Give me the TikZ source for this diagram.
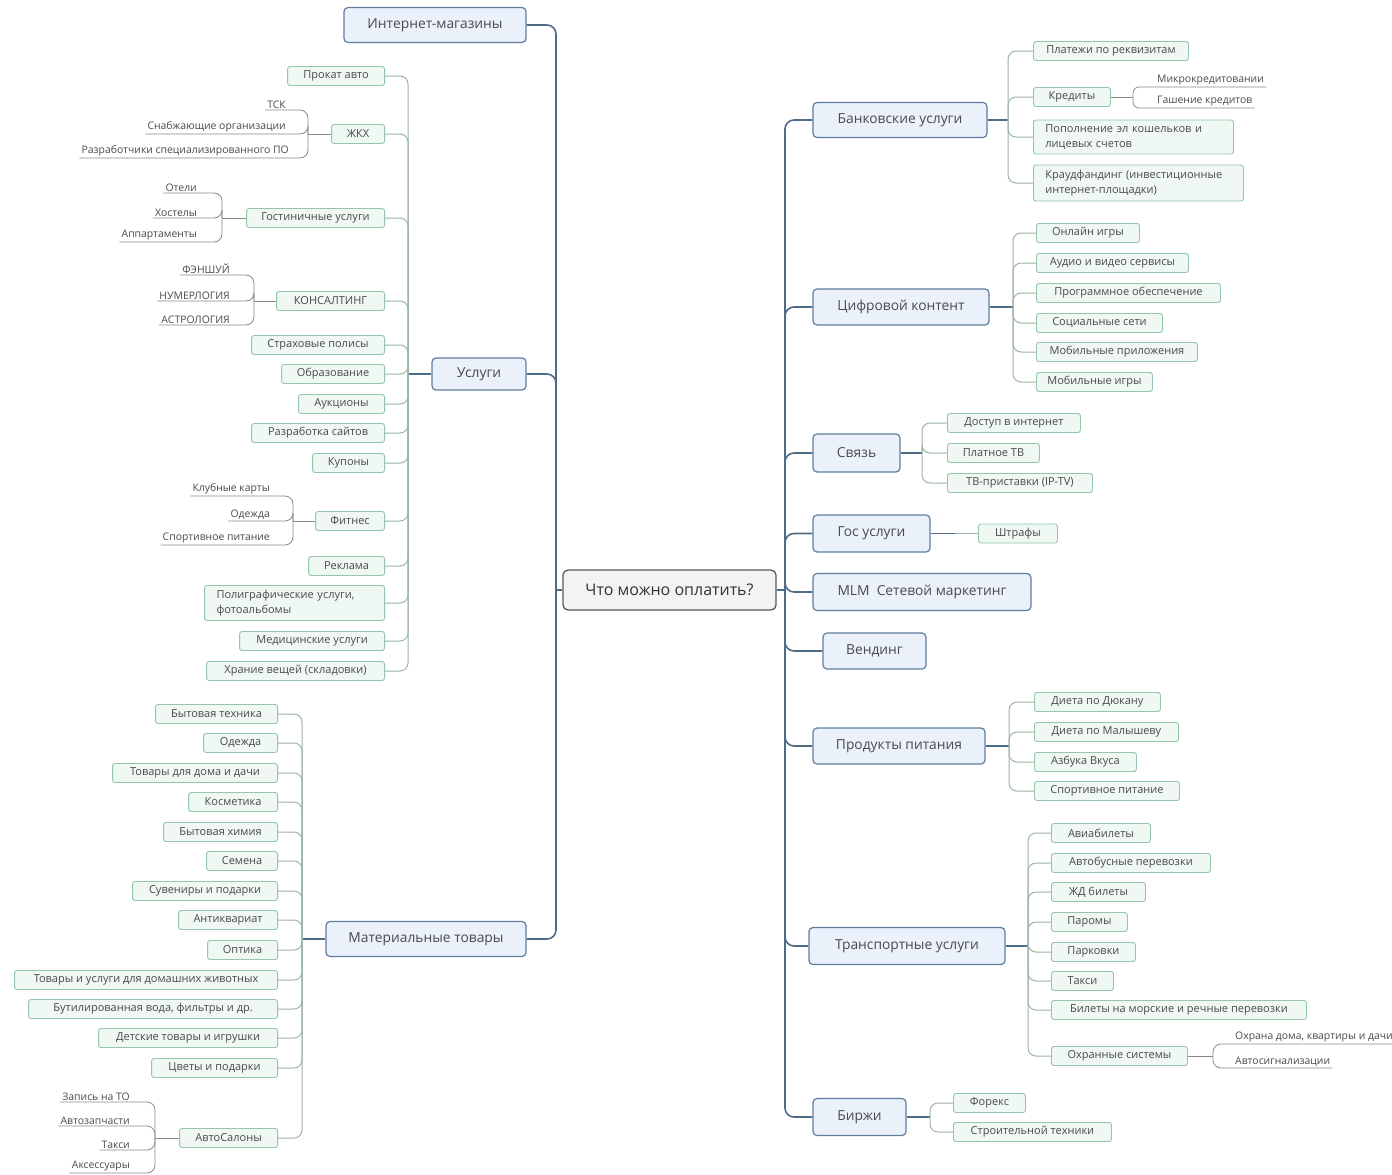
\documentclass[tikz,border=0pt]{standalone}
\usepackage{fontspec}
\setmainfont{Open Sans}
\definecolor{mainb}{HTML}{5F7E9E}
\definecolor{mainf}{HTML}{EAF1FA}
\definecolor{mainl}{HTML}{4E6B88}
\definecolor{subb}{HTML}{94C7A8}
\definecolor{subf}{HTML}{EFF8F2}
\definecolor{subl}{HTML}{9DB5A6}
\definecolor{labl}{HTML}{8A8A8A}
\definecolor{txt}{HTML}{4A4A4A}
\definecolor{cenb}{HTML}{5A5A5A}
\definecolor{cenf}{HTML}{F3F3F3}
\begin{document}
\begin{tikzpicture}[x=1pt,y=-1pt,
  central/.style={draw=cenb, fill=cenf, line width=1.3pt, rounded corners=5pt, minimum height=40pt, font=\fontsize{16}{18}\selectfont, text=black!80},
  mainn/.style={draw=mainb, fill=mainf, line width=1.2pt, rounded corners=4pt, minimum height=35pt, font=\fontsize{13.8}{15}\selectfont, text=txt, inner xsep=8pt},
  subn/.style={draw=subb, fill=subf, line width=0.9pt, rounded corners=2.5pt, minimum height=19pt, font=\fontsize{11}{12}\selectfont, text=txt, inner xsep=5pt, inner ysep=2pt},
  subtwo/.style={subn, align=left, text width=#1, inner xsep=12pt, font=\fontsize{11}{15}\selectfont},
  labn/.style={font=\fontsize{10.4}{11}\selectfont, text=txt, inner xsep=2pt, inner ysep=1.5pt},
  ml/.style={draw=mainl, line width=1.6pt, rounded corners=9pt},
  sl/.style={draw=subl, line width=1pt, rounded corners=8pt},
  ll/.style={draw=labl, line width=0.8pt, rounded corners=8pt}]
\useasboundingbox (0,0) rectangle (1392,1175);
\fill[white] (0,0) rectangle (1392,1175);

\node[central, minimum width=213pt] (cen) at (669.5,590) {Что можно оплатить?};

% left main
\node[mainn, minimum width=182pt] (inet) at (435,25) {Интернет-магазины};
\node[mainn, minimum width=94pt, minimum height=32pt] (usl) at (479,374) {Услуги};
\node[mainn, minimum width=200pt] (mat) at (426,939) {Материальные товары};

% right main
\node[mainn, minimum width=174pt] (bank) at (900,120) {Банковские услуги};
\node[mainn, minimum width=176pt, minimum height=36pt] (cifr) at (901,307) {Цифровой контент};
\node[mainn, minimum width=87pt, minimum height=38pt] (svyaz) at (856.5,453) {Связь};
\node[mainn, minimum width=117pt, minimum height=37pt] (gos) at (871.5,533.5) {Гос услуги};
\node[mainn, minimum width=218pt, minimum height=37pt] (mlm) at (922,592) {MLM\ \ Сетевой маркетинг};
\node[mainn, minimum width=103pt, minimum height=36pt] (vend) at (874.5,651) {Вендинг};
\node[mainn, minimum width=172pt, minimum height=36pt] (prod) at (899,746) {Продукты питания};
\node[mainn, minimum width=196pt, minimum height=37pt] (trans) at (907,946) {Транспортные услуги};
\node[mainn, minimum width=93pt, minimum height=37pt] (birzhi) at (859.5,1117) {Биржи};

% Услуги subtopics
\node[subn, anchor=east, minimum width=97pt] (u1) at (385,76) {Прокат авто};
\node[subn, anchor=east, minimum width=53pt] (u2) at (385,134) {ЖКХ};
\node[subn, anchor=east, minimum width=138pt] (u3) at (385,218) {Гостиничные услуги};
\node[subn, anchor=east, minimum width=108pt] (u4) at (385,301) {КОНСАЛТИНГ};
\node[subn, anchor=east, minimum width=133pt] (u5) at (385,345) {Страховые полисы};
\node[subn, anchor=east, minimum width=103pt] (u6) at (385,374) {Образование};
\node[subn, anchor=east, minimum width=86pt] (u7) at (385,404) {Аукционы};
\node[subn, anchor=east, minimum width=133pt] (u8) at (385,433) {Разработка сайтов};
\node[subn, anchor=east, minimum width=72pt] (u9) at (385,463) {Купоны};
\node[subn, anchor=east, minimum width=69pt] (u10) at (385,521) {Фитнес};
\node[subn, anchor=east, minimum width=76pt] (u11) at (385,566) {Реклама};
\node[subtwo=156pt, anchor=east, minimum height=35pt] (u12) at (385,603) {Полиграфические услуги,\\фотоальбомы};
\node[subn, anchor=east, minimum width=145pt] (u13) at (385,641) {Медицинские услуги};
\node[subn, anchor=east, minimum width=178pt] (u14) at (385,671) {Храние вещей (складовки)};

% labels of ЖКХ
\node[labn, anchor=south east] (z1) at (288,110) {ТСК};
\node[labn, anchor=south east] (z2) at (288,134) {Снабжающие организации};
\node[labn, anchor=south east] (z3) at (291,158) {Разработчики специализированного ПО};
% labels of Гостиничные
\node[labn, anchor=south east] (g1) at (199,193) {Отели};
\node[labn, anchor=south east] (g2) at (199,218) {Хостелы};
\node[labn, anchor=south east] (g3) at (199,242) {Аппартаменты};
% labels of КОНСАЛТИНГ
\node[labn, anchor=south east] (k1) at (232,275) {ФЭНШУЙ};
\node[labn, anchor=south east] (k2) at (232,301) {НУМЕРЛОГИЯ};
\node[labn, anchor=south east] (k3) at (232,325) {АСТРОЛОГИЯ};
% labels of Фитнес
\node[labn, anchor=south east] (f1) at (272,496) {Клубные карты};
\node[labn, anchor=south east] (f2) at (272,521) {Одежда};
\node[labn, anchor=south east] (f3) at (272,545) {Спортивное питание};

% Материальные товары subtopics
\node[subn, anchor=east, minimum width=122pt] (m1) at (278,714) {Бытовая техника};
\node[subn, anchor=east, minimum width=74pt] (m2) at (278,743) {Одежда};
\node[subn, anchor=east, minimum width=165pt] (m3) at (278,773) {Товары для дома и дачи};
\node[subn, anchor=east, minimum width=89pt] (m4) at (278,802) {Косметика};
\node[subn, anchor=east, minimum width=114pt] (m5) at (278,832) {Бытовая химия};
\node[subn, anchor=east, minimum width=71pt] (m6) at (278,861) {Семена};
\node[subn, anchor=east, minimum width=145pt] (m7) at (278,891) {Сувениры и подарки};
\node[subn, anchor=east, minimum width=99pt] (m8) at (278,920) {Антиквариат};
\node[subn, anchor=east, minimum width=70pt] (m9) at (278,950) {Оптика};
\node[subn, anchor=east, minimum width=263pt] (m10) at (278,980) {Товары и услуги для домашних животных};
\node[subn, anchor=east, minimum width=249pt] (m11) at (278,1009) {Бутилированная вода, фильтры и др.};
\node[subn, anchor=east, minimum width=179pt] (m12) at (278,1038) {Детские товары и игрушки};
\node[subn, anchor=east, minimum width=126pt] (m13) at (278,1068) {Цветы и подарки};
\node[subn, anchor=east, minimum width=98pt] (m14) at (278,1138) {АвтоСалоны};
% labels of АвтоСалоны
\node[labn, anchor=south east] (a1) at (132,1102) {Запись на ТО};
\node[labn, anchor=south east] (a2) at (132,1126) {Автозапчасти};
\node[labn, anchor=south east] (a3) at (132,1150) {Такси};
\node[labn, anchor=south east] (a4) at (132,1173) {Аксессуары};

% Банковские услуги
\node[subn, anchor=west, minimum width=155pt] (b1) at (1033,51) {Платежи по реквизитам};
\node[subn, anchor=west, minimum width=77pt] (b2) at (1033,97) {Кредиты};
\node[subtwo=176pt, anchor=west, minimum height=34pt] (b3) at (1033,137) {Пополнение эл кошельков и\\лицевых счетов};
\node[subtwo=186pt, anchor=west, minimum height=36pt] (b4) at (1033,183) {Краудфандинг (инвестиционные\\интернет-площадки)};
\node[labn, anchor=south west] (c1) at (1155,87) {Микрокредитовании};
\node[labn, anchor=south west] (c2) at (1155,108) {Гашение кредитов};

% Цифровой контент
\node[subn, anchor=west, minimum width=103pt] (d1) at (1036,233) {Онлайн игры};
\node[subn, anchor=west, minimum width=152pt] (d2) at (1036,263) {Аудио и видео сервисы};
\node[subn, anchor=west, minimum width=184pt] (d3) at (1036,293) {Программное обеспечение};
\node[subn, anchor=west, minimum width=126pt] (d4) at (1036,323) {Социальные сети};
\node[subn, anchor=west, minimum width=161pt] (d5) at (1036,352) {Мобильные приложения};
\node[subn, anchor=west, minimum width=116pt] (d6) at (1036,382) {Мобильные игры};

% Связь
\node[subn, anchor=west, minimum width=133pt] (s1) at (947,423) {Доступ в интернет};
\node[subn, anchor=west, minimum width=92pt] (s2) at (947,453) {Платное ТВ};
\node[subn, anchor=west, minimum width=145pt] (s3) at (947,483) {ТВ-приставки (IP-TV)};

% Гос услуги
\node[subn, anchor=west, minimum width=79pt] (gs1) at (978,533.5) {Штрафы};

% Продукты питания
\node[subn, anchor=west, minimum width=126pt] (p1) at (1034,702) {Диета по Дюкану};
\node[subn, anchor=west, minimum width=144pt] (p2) at (1034,732) {Диета по Малышеву};
\node[subn, anchor=west, minimum width=102pt] (p3) at (1034,762) {Азбука Вкуса};
\node[subn, anchor=west, minimum width=145pt] (p4) at (1034,791) {Спортивное питание};

% Транспортные услуги
\node[subn, anchor=west, minimum width=99pt] (t1) at (1051,833) {Авиабилеты};
\node[subn, anchor=west, minimum width=159pt] (t2) at (1051,863) {Автобусные перевозки};
\node[subn, anchor=west, minimum width=94pt] (t3) at (1051,892) {ЖД билеты};
\node[subn, anchor=west, minimum width=76pt] (t4) at (1051,922) {Паромы};
\node[subn, anchor=west, minimum width=84pt] (t5) at (1051,952) {Парковки};
\node[subn, anchor=west, minimum width=62pt] (t6) at (1051,981) {Такси};
\node[subn, anchor=west, minimum width=255pt] (t7) at (1051,1010) {Билеты на морские и речные перевозки};
\node[subn, anchor=west, minimum width=136pt] (t8) at (1051,1056) {Охранные системы};
\node[labn, anchor=south west] (o1) at (1233,1044) {Охрана дома, квартиры и дачи};
\node[labn, anchor=south west] (o2) at (1233,1068) {Автосигнализации};

% Биржи
\node[subn, anchor=west, minimum width=72pt] (e1) at (953,1103) {Форекс};
\node[subn, anchor=west, minimum width=158pt] (e2) at (953,1132) {Строительной техники};

% ---------- connectors ----------
\coordinate (LT) at (556,590);
\draw[ml] (cen.west) -- (LT);
\draw[ml] (inet.east) -| (LT);
\draw[ml] (usl.east) -| (LT);
\draw[ml] (mat.east) -| (LT);

\coordinate (UT) at (408,374);
\draw[ml] (usl.west) -- (UT);
\foreach \n in {u1,u2,u3,u4,u5,u6,u7,u8,u9,u10,u11,u12,u13,u14}
  \draw[sl] (\n.east) -| (UT);

\coordinate (ZJ) at (308,134);
\draw[ll] (u2.west) -- (ZJ);
\foreach \n in {z1,z2,z3} \draw[ll] (ZJ) |- (\n.south west);
\coordinate (GJ) at (222,218);
\draw[ll] (u3.west) -- (GJ);
\foreach \n in {g1,g2,g3} \draw[ll] (GJ) |- (\n.south west);
\coordinate (KJ) at (254,301);
\draw[ll] (u4.west) -- (KJ);
\foreach \n in {k1,k2,k3} \draw[ll] (KJ) |- (\n.south west);
\coordinate (FJ) at (293,521);
\draw[ll] (u10.west) -- (FJ);
\foreach \n in {f1,f2,f3} \draw[ll] (FJ) |- (\n.south west);

\coordinate (MT) at (302,939);
\draw[ml] (mat.west) -- (MT);
\foreach \n in {m1,m2,m3,m4,m5,m6,m7,m8,m9,m10,m11,m12,m13,m14}
  \draw[sl] (\n.east) -| (MT);
\coordinate (AJ) at (155,1138);
\draw[ll] (m14.west) -- (AJ);
\foreach \n in {a1,a2,a3,a4} \draw[ll] (AJ) |- (\n.south west);

\coordinate (RT) at (785,590);
\draw[ml] (cen.east) -- (RT);
\foreach \n in {bank,cifr,svyaz,gos,mlm,vend,prod,trans,birzhi}
  \draw[ml] (RT) |- (\n.west);

\coordinate (BT) at (1008,120);
\draw[ml] (bank.east) -- (BT);
\foreach \n in {b1,b2,b3,b4} \draw[sl] (BT) |- (\n.west);
\coordinate (CJ) at (1133,97);
\draw[ll] (b2.east) -- (CJ);
\foreach \n in {c1,c2} \draw[ll, rounded corners=6pt] (CJ) |- (\n.south east);

\coordinate (DT) at (1013,307);
\draw[ml] (cifr.east) -- (DT);
\foreach \n in {d1,d2,d3,d4,d5,d6} \draw[sl] (DT) |- (\n.west);

\coordinate (ST) at (922,453);
\draw[ml] (svyaz.east) -- (ST);
\foreach \n in {s1,s2,s3} \draw[sl] (ST) |- (\n.west);

\coordinate (GT) at (955,533.5);
\draw[ml] (gos.east) -- (GT);
\draw[sl] (GT) -- (gs1.west);

\coordinate (PT) at (1009,746);
\draw[ml] (prod.east) -- (PT);
\foreach \n in {p1,p2,p3,p4} \draw[sl] (PT) |- (\n.west);

\coordinate (TT) at (1028,946);
\draw[ml] (trans.east) -- (TT);
\foreach \n in {t1,t2,t3,t4,t5,t6,t7,t8} \draw[sl] (TT) |- (\n.west);
\coordinate (OJ) at (1213,1056);
\draw[ll] (t8.east) -- (OJ);
\foreach \n in {o1,o2} \draw[ll] (OJ) |- (\n.south east);

\coordinate (ET) at (930,1117);
\draw[ml] (birzhi.east) -- (ET);
\foreach \n in {e1,e2} \draw[sl] (ET) |- (\n.west);
\end{tikzpicture}
\end{document}
